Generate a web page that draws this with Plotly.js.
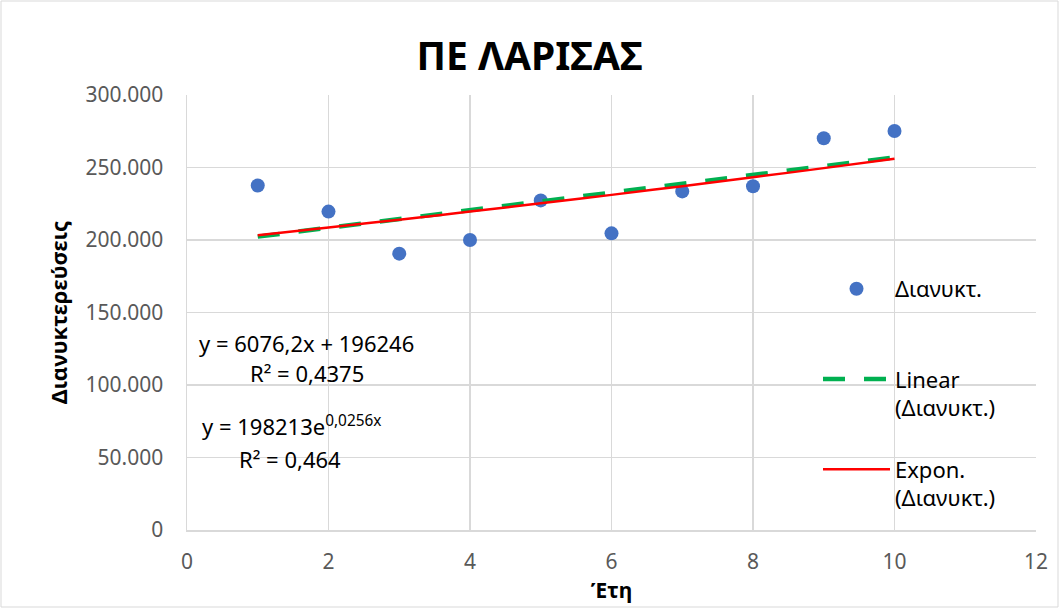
<!DOCTYPE html>
<html>
<head>
<meta charset="utf-8">
<script src="https://cdn.plot.ly/plotly-3.0.1.min.js"></script>
<style>html,body{margin:0;padding:0;background:#fff;}#chart{width:1059px;height:608px;}</style>
</head>
<body>
<div id="chart"></div>
<script>
// Data
const years = [1, 2, 3, 4, 5, 6, 7, 8, 9, 10];
const overnights = [237600, 219600, 190600, 200000, 227300, 204600, 233500, 237100, 270200, 275200];

// Trendline coefficients as shown on the chart
const linSlope = 6076.2;
const linIntercept = 196246;
const expA = 198213;
const expB = 0.0256;

const fitX = [1, 2, 3, 4, 5, 6, 7, 8, 9, 10];
const linY = fitX.map(x => linSlope * x + linIntercept);
const expY = fitX.map(x => expA * Math.exp(expB * x));

const FONT = "Noto Sans, Open Sans, DejaVu Sans, sans-serif";

const traces = [
  {
    x: years, y: overnights, type: 'scatter', mode: 'markers',
    name: 'Διανυκτ.<br>&nbsp;', legendgroup: 'a',
    marker: {color: '#4472C4', size: 14}
  },
  {
    x: fitX, y: linY, type: 'scatter', mode: 'lines',
    name: 'Linear<br>(Διανυκτ.)', legendgroup: 'b',
    line: {color: '#00B050', width: 4.5, dash: '22px,19px'}
  },
  {
    x: fitX, y: expY, type: 'scatter', mode: 'lines',
    name: 'Expon.<br>(Διανυκτ.)', legendgroup: 'c',
    line: {color: '#FF0000', width: 2.5, shape: 'spline'}
  }
];

const W = 849, H = 435, L = 187, T = 95, B = 78, R = 23;
const EQ = {family: FONT, size: 22, color: '#000000'};

const layout = {
  width: 1059, height: 608,
  margin: {l: L, r: R, t: T, b: B, pad: 0},
  paper_bgcolor: '#ffffff', plot_bgcolor: '#ffffff',
  separators: ',.',
  font: {family: FONT, size: 21, color: '#595959'},
  title: {
    text: '<b>ΠΕ ΛΑΡΙΣΑΣ</b>',
    font: {family: FONT, size: 39, color: '#000000'},
    x: 0.5, xanchor: 'center', y: 1 - 56 / 608, yanchor: 'middle', xref: 'container', yref: 'container'
  },
  xaxis: {
    range: [0, 12], dtick: 2, tick0: 0,
    showgrid: true, gridcolor: '#D9D9D9', gridwidth: 1.5,
    showline: true, linecolor: '#D9D9D9', linewidth: 1.5,
    zeroline: false, ticks: '', ticklabelstandoff: 12,
    tickfont: {family: FONT, size: 21, color: '#595959'},
    title: {text: '<b>Έτη</b>', font: {family: FONT, size: 21, color: '#000000'}, standoff: 9}
  },
  yaxis: {
    range: [0, 300000], dtick: 50000, tick0: 0,
    tickformat: ',.0f',
    showgrid: true, gridcolor: '#D9D9D9', gridwidth: 1.5,
    showline: true, linecolor: '#D9D9D9', linewidth: 1.5,
    zeroline: false, ticks: '', ticklabelstandoff: 18,
    tickfont: {family: FONT, size: 21, color: '#595959'},
    title: {text: '<b>Διανυκτερεύσεις</b>', font: {family: FONT, size: 22, color: '#000000'}, standoff: 12}
  },
  showlegend: true,
  legend: {
    x: (818 - L) / W, xanchor: 'left',
    y: (T + H - 268) / H, yanchor: 'top',
    bgcolor: 'rgba(0,0,0,0)', borderwidth: 0,
    font: {family: FONT, size: 22, color: '#000000'},
    itemwidth: 67, valign: 'top', tracegroupgap: 30, traceorder: 'grouped'
  },
  annotations: [
    {x: 1.696, y: 129000, xref: 'x', yref: 'y', text: 'y = 6076,2x + 196246', showarrow: false,
     font: EQ, xanchor: 'center', yanchor: 'middle'},
    {x: 1.696, y: 108000, xref: 'x', yref: 'y', text: 'R² = 0,4375', showarrow: false,
     font: EQ, xanchor: 'center', yanchor: 'middle'},
    {x: 1.47, y: 72000, xref: 'x', yref: 'y', text: 'y = 198213e<sup>0,0256x</sup>', showarrow: false,
     font: EQ, xanchor: 'center', yanchor: 'middle'},
    {x: 1.46, y: 49000, xref: 'x', yref: 'y', text: 'R² = 0,464', showarrow: false,
     font: EQ, xanchor: 'center', yanchor: 'middle'}
  ],
  shapes: [
    {type: 'rect', xref: 'paper', yref: 'paper',
     x0: -(L - 1) / W, x1: (W + R - 1) / W, y0: -(B - 1) / H, y1: (H + T - 1) / H,
     line: {color: '#D9D9D9', width: 1}, fillcolor: 'rgba(0,0,0,0)', layer: 'below'}
  ]
};

Plotly.newPlot('chart', traces, layout, {staticPlot: true, displayModeBar: false});
</script>
</body>
</html>
